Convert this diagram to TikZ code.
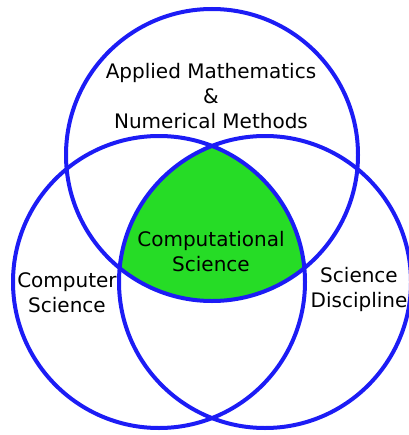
\documentclass[tikz,border=0pt]{standalone}
\usepackage{fontspec}
\setmainfont{DejaVu Sans}
\usepackage{xcolor}
\usetikzlibrary{positioning}

\definecolor{ringblue}{RGB}{28,28,245}
\definecolor{coregreen}{RGB}{38,220,38}
\def\rad{109.5pt}

\begin{document}
\begin{tikzpicture}[x=0.75pt, y=-0.75pt,
  ring/.style={draw=ringblue, line width=3pt},
  venntext/.style={align=center, inner sep=0pt, font=\fontsize{15}{18.75}\selectfont}]

  \useasboundingbox (0,0) rectangle (409,435);

  % Centres
  \coordinate (math) at (212,155);
  \coordinate (cs) at (159,282);
  \coordinate (disc) at (265,282);

  % Common part
  \begin{scope}
    \clip (math) circle (\rad);
    \clip (cs) circle (\rad);
    \fill [coregreen] (disc) circle (\rad);
  \end{scope}

  % Circles
  \draw [ring] (math) circle (\rad);
  \draw [ring] (cs) circle (\rad);
  \draw [ring] (disc) circle (\rad);

  % Labels
  \node [venntext] (mathtext) at (211,96) {Applied Mathematics\\\&\\Numerical Methods};
  \node [venntext] (coretext) at (211,252) {Computational\\Science};
  \node [venntext] (cstext) at (67,293) {Computer\\Science};
  \node [venntext] (disctext) at (359,289) {Science\\Discipline};

\end{tikzpicture}
\end{document}
